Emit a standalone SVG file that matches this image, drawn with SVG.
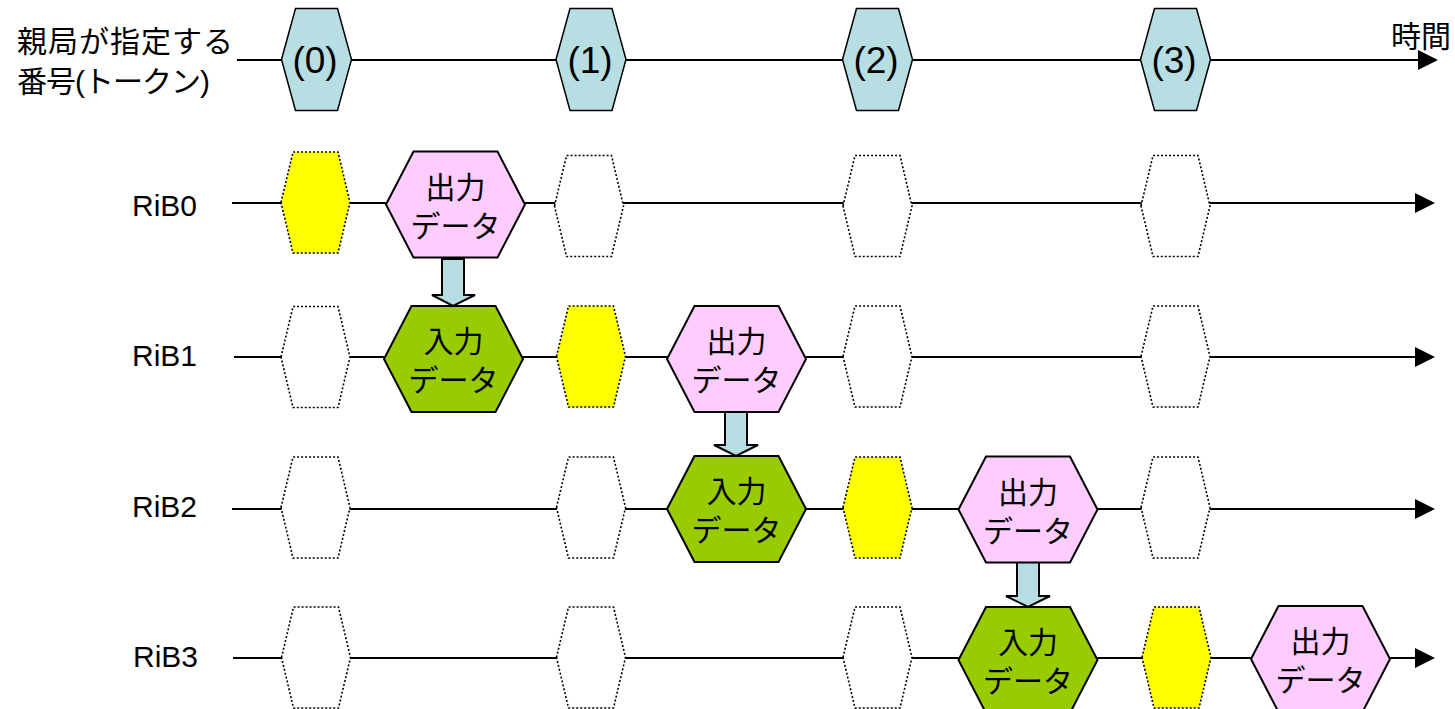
<svg xmlns="http://www.w3.org/2000/svg" xmlns:xlink="http://www.w3.org/1999/xlink" width="1455" height="709" viewBox="0 0 1455 709">
<style>
.bg{fill:#ffffff}
.line{fill:none;stroke:#000;stroke-width:2}
.blk{fill:#B7DEE2;stroke:#000;stroke-width:2;stroke-linejoin:miter}
.tok{fill:#B7DEE2;stroke:#000;stroke-width:1.5}
.dot{fill:#ffffff;stroke:#000;stroke-width:1.6;stroke-dasharray:2 2}
.yel{fill:#FFFF00;stroke:#000;stroke-width:1.6;stroke-dasharray:2 2}
.out{fill:#FFCCFF;stroke:#000;stroke-width:2}
.in{fill:#99CC00;stroke:#000;stroke-width:2}
.lat{font-family:"Liberation Sans",Arial,sans-serif;fill:#000}
.jp{font-family:"Liberation Sans","Noto Sans CJK JP",sans-serif;fill:#000}
.hx{font-size:30px;text-anchor:middle}
.rib{font-size:30px}
.tt{font-size:37px;text-anchor:middle}
</style>
<defs>
<polygon id="big" points="-69.5,0 -42,-53 42,-53 69.5,0 42,53 -42,53"/>
<polygon id="sm" points="-34.5,0 -22.5,-50.5 22.5,-50.5 34.5,0 22.5,50.5 -22.5,50.5"/>
<polygon id="tk" points="-35,0 -21,-51 21,-51 35,0 21,51 -21,51"/>
<marker id="ah" viewBox="0 0 20 20" refX="0" refY="10" markerWidth="20" markerHeight="20" markerUnits="userSpaceOnUse" orient="auto">
<path d="M0,0 L20,10 L0,20 z" fill="#000"/>
</marker>
</defs>
<rect class="bg" x="0" y="0" width="1455" height="709"/>

<g id="connectors">
<line class="line" x1="237" y1="60" x2="1418" y2="60" marker-end="url(#ah)"/>
<line class="line" x1="232" y1="203" x2="1415" y2="203" marker-end="url(#ah)"/>
<line class="line" x1="234" y1="357" x2="1415" y2="357" marker-end="url(#ah)"/>
<line class="line" x1="232" y1="509" x2="1415" y2="509" marker-end="url(#ah)"/>
<line class="line" x1="233" y1="658" x2="1415" y2="658" marker-end="url(#ah)"/>
<polygon id="arrow-rib0-rib1" class="blk" points="442,259 464,259 464,295 475,295 453,306 432,295 442,295"/>
<polygon id="arrow-rib1-rib2" class="blk" points="725,412 747,412 747,445 758,445 736,456 714,445 725,445"/>
<polygon id="arrow-rib2-rib3" class="blk" points="1017,562 1039,562 1039,596 1050,596 1028,607 1006,596 1017,596"/>
</g>

<g id="labels">
<text class="jp" font-size="30" x="17" y="52" textLength="216" lengthAdjust="spacing">親局が指定する</text>
<text class="jp" font-size="30" x="17" y="92" textLength="193" lengthAdjust="spacing">番号(トークン)</text>
<text class="jp" font-size="30" x="1391" y="47">時間</text>
<text class="lat rib" x="132" y="216">RiB0</text>
<text class="lat rib" x="132" y="366">RiB1</text>
<text class="lat rib" x="132" y="517">RiB2</text>
<text class="lat rib" x="133" y="667">RiB3</text>
</g>

<g id="token-0"><use xlink:href="#tk" class="tok" x="316.5" y="59.5"/><text class="lat tt" x="315" y="73">(0)</text></g>
<g id="token-1"><use xlink:href="#tk" class="tok" x="591" y="59.5"/><text class="lat tt" x="590" y="73">(1)</text></g>
<g id="token-2"><use xlink:href="#tk" class="tok" x="877.5" y="59.5"/><text class="lat tt" x="876" y="73">(2)</text></g>
<g id="token-3"><use xlink:href="#tk" class="tok" x="1175.5" y="59.5"/><text class="lat tt" x="1174" y="73">(3)</text></g>

<g id="rib0-slot0"><use xlink:href="#sm" class="yel" x="315.5" y="202.5"/></g>
<g id="rib0-out"><use xlink:href="#big" class="out" x="455.5" y="204.5"/><text class="jp hx" x="455.5" y="198">出力</text><text class="jp hx" x="455.5" y="237">データ</text></g>
<g id="rib0-slot1"><use xlink:href="#sm" class="dot" x="589" y="206"/></g>
<g id="rib0-slot2"><use xlink:href="#sm" class="dot" x="877.5" y="206"/></g>
<g id="rib0-slot3"><use xlink:href="#sm" class="dot" x="1175.5" y="206"/></g>

<g id="rib1-slot0"><use xlink:href="#sm" class="dot" x="315.5" y="357"/></g>
<g id="rib1-in"><use xlink:href="#big" class="in" x="453.5" y="359"/><text class="jp hx" x="453.5" y="352">入力</text><text class="jp hx" x="453.5" y="391">データ</text></g>
<g id="rib1-slot1"><use xlink:href="#sm" class="yel" x="591" y="356.5"/></g>
<g id="rib1-out"><use xlink:href="#big" class="out" x="736.5" y="359"/><text class="jp hx" x="736.5" y="352">出力</text><text class="jp hx" x="736.5" y="391">データ</text></g>
<g id="rib1-slot2"><use xlink:href="#sm" class="dot" x="877.5" y="356.5"/></g>
<g id="rib1-slot3"><use xlink:href="#sm" class="dot" x="1175.5" y="356.5"/></g>

<g id="rib2-slot0"><use xlink:href="#sm" class="dot" x="315.5" y="507.5"/></g>
<g id="rib2-slot1"><use xlink:href="#sm" class="dot" x="591" y="507.5"/></g>
<g id="rib2-in"><use xlink:href="#big" class="in" x="736.5" y="509"/><text class="jp hx" x="736.5" y="502">入力</text><text class="jp hx" x="736.5" y="541">データ</text></g>
<g id="rib2-slot2"><use xlink:href="#sm" class="yel" x="877.5" y="507.5"/></g>
<g id="rib2-out"><use xlink:href="#big" class="out" x="1028" y="509.5"/><text class="jp hx" x="1028" y="503">出力</text><text class="jp hx" x="1028" y="542">データ</text></g>
<g id="rib2-slot3"><use xlink:href="#sm" class="dot" x="1175.5" y="507.5"/></g>

<g id="rib3-slot0"><use xlink:href="#sm" class="dot" x="316" y="657.5"/></g>
<g id="rib3-slot1"><use xlink:href="#sm" class="dot" x="591" y="657.5"/></g>
<g id="rib3-slot2"><use xlink:href="#sm" class="dot" x="877.5" y="657.5"/></g>
<g id="rib3-in"><use xlink:href="#big" class="in" x="1028" y="660"/><text class="jp hx" x="1028" y="653">入力</text><text class="jp hx" x="1028" y="692">データ</text></g>
<g id="rib3-slot3"><use xlink:href="#sm" class="yel" x="1176.5" y="657.5"/></g>
<g id="rib3-out"><use xlink:href="#big" class="out" x="1320.5" y="659"/><text class="jp hx" x="1320.5" y="652">出力</text><text class="jp hx" x="1320.5" y="691">データ</text></g>
</svg>
